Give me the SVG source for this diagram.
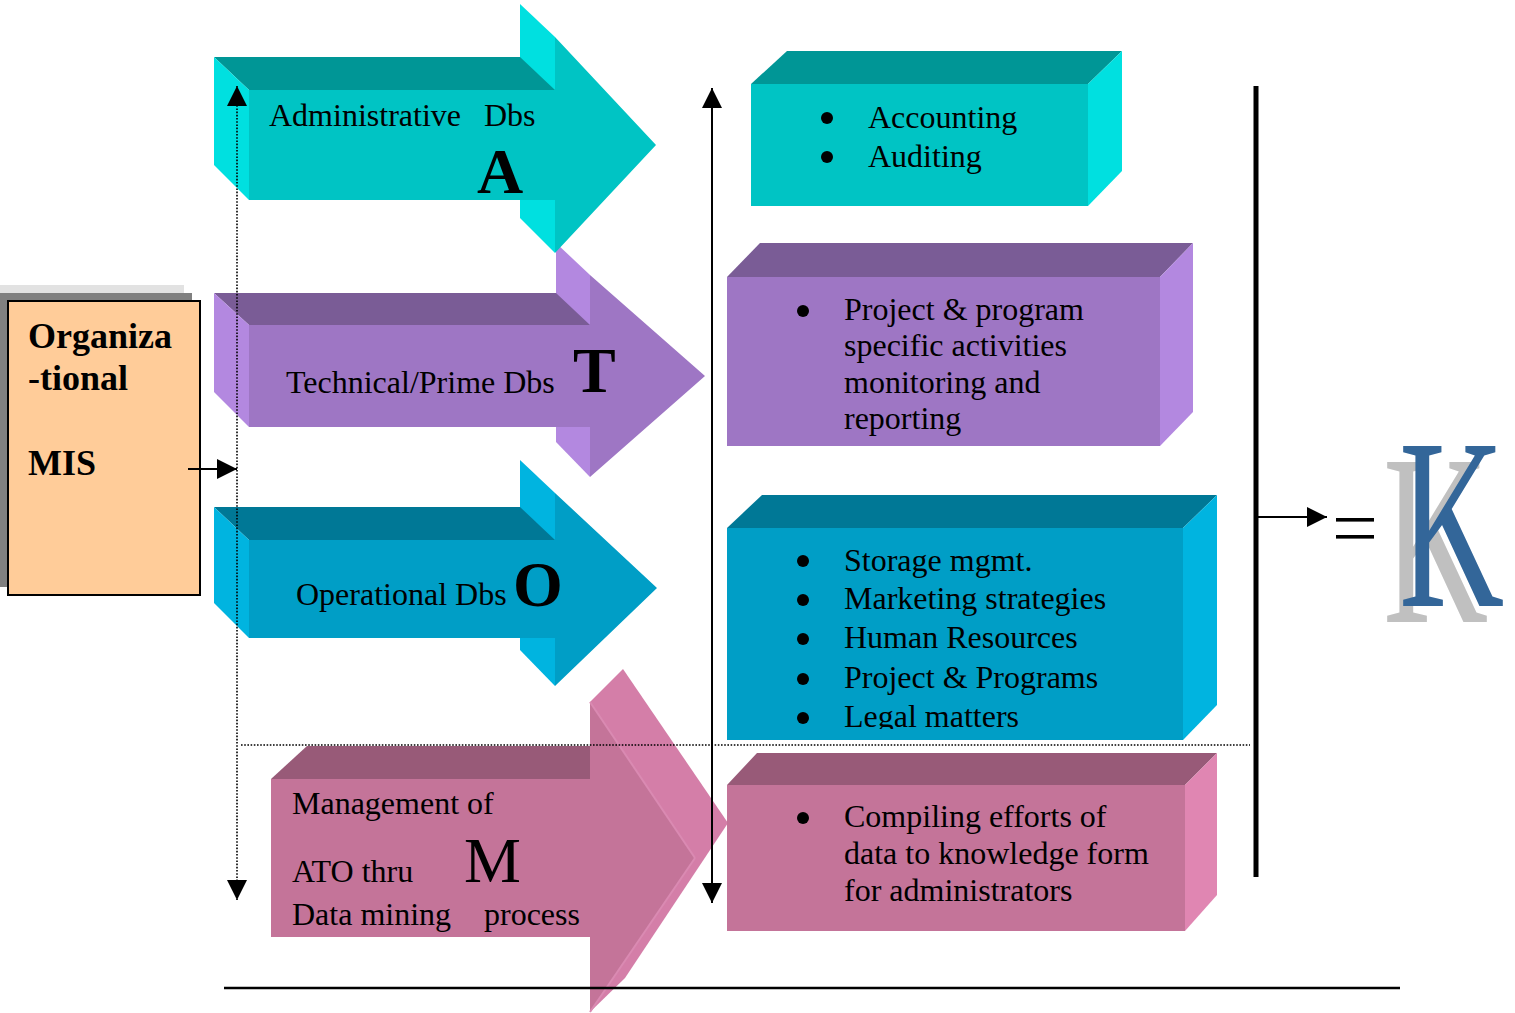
<svg xmlns="http://www.w3.org/2000/svg" width="1515" height="1013" viewBox="0 0 1515 1013">
<defs>
<style>
text{font-family:"Liberation Serif","Times New Roman",serif;fill:#000}
.t32{font-size:32px}
.big{font-size:64px;font-weight:bold}
.bigr{font-size:64px}
.mis{font-size:36px;font-weight:bold}
.bul{fill:#000}
.dot{stroke:#000;stroke-width:1.6;stroke-dasharray:1.6 1.6;fill:none}
.ln{stroke:#000;stroke-width:2;fill:none}
.tealF{fill:#00C4C4}.tealT{fill:#009696}.tealS{fill:#00E0E0}
.purF{fill:#9E76C4}.purT{fill:#7A5C96}.purS{fill:#B388E0}
.bluF{fill:#009EC6}.bluT{fill:#007896}.bluS{fill:#00B4E0}
.pinF{fill:#C47499}.pinT{fill:#985A78}.pinS{fill:#D47EA8}.pinS2{fill:#E086B2}
</style>
<marker id="ah" viewBox="0 0 20 20" refX="20" refY="10" markerWidth="20" markerHeight="20" markerUnits="userSpaceOnUse" orient="auto-start-reverse">
<path d="M0,0 L20,10 L0,20 Z" fill="#000"/>
</marker>
<clipPath id="clipO"><rect x="727" y="528" width="456" height="201"/></clipPath>
</defs>

<!-- Left box: Organizational MIS -->
<g id="node-mis">
<rect x="0" y="285" width="184" height="10" fill="#E2E2E2"/>
<rect x="0" y="293" width="192" height="294" fill="#808080"/>
<rect x="8" y="301" width="192" height="294" fill="#FFCC99" stroke="#000" stroke-width="2"/>
<text class="mis" x="28" y="348">Organiza</text>
<text class="mis" x="28" y="390">-tional</text>
<text class="mis" x="28" y="475">MIS</text>
</g>

<!-- Arrow M -->
<g id="node-arrow-m">
<polygon class="pinT" points="307,746 590,746 590,779 271,779"/>
<polygon class="pinS" points="590,702 623,669 728,823 625,978 590,1012"/>
<polygon class="pinF" points="271,779 590,779 590,702 695,858 590,1012 590,937 271,937"/>
<line x1="590" y1="702" x2="695" y2="858" stroke="#DA8AB2" stroke-width="2"/>
<line x1="695" y1="858" x2="590" y2="1012" stroke="#DA8AB2" stroke-width="2"/>
<text class="t32" x="292" y="814">Management of</text>
<text class="t32" x="292" y="882">ATO thru</text>
<text class="bigr" x="464" y="882">M</text>
<text class="t32" x="292" y="925">Data mining</text>
<text class="t32" x="484" y="925">process</text>
</g>

<!-- Arrow O -->
<g id="node-arrow-o">
<polygon class="bluS" points="520,460 555,493 555,686 520,650"/>
<polygon class="bluT" points="214,507 520,507 555,540 249,540"/>
<polygon class="bluS" points="214,507 249,540 249,638 214,603"/>
<polygon class="bluF" points="249,540 555,540 555,493 657,588 555,686 555,638 249,638"/>
<text class="t32" x="296" y="605">Operational Dbs</text>
<text class="big" x="513" y="606">O</text>
</g>

<!-- Arrow T -->
<g id="node-arrow-t">
<polygon class="purS" points="556,243 590,275 590,477 556,442"/>
<polygon class="purT" points="214,293 556,293 590,325 249,325"/>
<polygon class="purS" points="214,293 249,325 249,427 214,392"/>
<polygon class="purF" points="249,325 590,325 590,275 705,376 590,477 590,427 249,427"/>
<text class="t32" x="286" y="393">Technical/Prime Dbs</text>
<text class="big" x="573" y="392">T</text>
</g>

<!-- Arrow A -->
<g id="node-arrow-a">
<polygon class="tealS" points="520,4 555,37 555,253 520,218"/>
<polygon class="tealT" points="214,57 520,57 555,90 249,90"/>
<polygon class="tealS" points="214,57 249,90 249,200 214,165"/>
<polygon class="tealF" points="249,90 555,90 555,37 656,145 555,253 555,200 249,200"/>
<text class="t32" x="269" y="126">Administrative</text>
<text class="t32" x="484" y="126">Dbs</text>
<text class="big" x="477" y="193">A</text>
</g>

<!-- Box 1 teal -->
<g id="node-box-admin">
<polygon class="tealT" points="751,84 787,51 1122,51 1088,84"/>
<polygon class="tealS" points="1088,84 1122,51 1122,171 1088,206"/>
<rect class="tealF" x="751" y="84" width="337" height="122"/>
<circle class="bul" cx="827" cy="118" r="6"/>
<text class="t32" x="868" y="128">Accounting</text>
<circle class="bul" cx="827" cy="157" r="6"/>
<text class="t32" x="868" y="167">Auditing</text>
</g>

<!-- Box 2 purple -->
<g id="node-box-tech">
<polygon class="purT" points="727,277 760,243 1193,243 1160,277"/>
<polygon class="purS" points="1160,277 1193,243 1193,412 1160,446"/>
<rect class="purF" x="727" y="277" width="433" height="169"/>
<circle class="bul" cx="803" cy="311" r="6"/>
<text class="t32" x="844" y="320">Project &amp; program</text>
<text class="t32" x="844" y="356">specific activities</text>
<text class="t32" x="844" y="393">monitoring and</text>
<text class="t32" x="844" y="429">reporting</text>
</g>

<!-- Box 3 blue -->
<g id="node-box-oper">
<polygon class="bluT" points="727,528 762,495 1217,495 1183,528"/>
<polygon class="bluS" points="1183,528 1217,495 1217,705 1183,740"/>
<rect class="bluF" x="727" y="528" width="456" height="212"/>
<circle class="bul" cx="803" cy="561" r="6"/>
<circle class="bul" cx="803" cy="600" r="6"/>
<circle class="bul" cx="803" cy="639" r="6"/>
<circle class="bul" cx="803" cy="679" r="6"/>
<circle class="bul" cx="803" cy="718" r="6"/>
<g clip-path="url(#clipO)">
<text class="t32" x="844" y="571">Storage mgmt.</text>
<text class="t32" x="844" y="609">Marketing strategies</text>
<text class="t32" x="844" y="648">Human Resources</text>
<text class="t32" x="844" y="688">Project &amp; Programs</text>
<text class="t32" x="844" y="727">Legal matters</text>
</g>
</g>

<!-- Box 4 pink -->
<g id="node-box-mgmt">
<polygon class="pinT" points="727,785 757,753 1217,753 1185,785"/>
<polygon class="pinS2" points="1185,785 1217,753 1217,895 1185,931"/>
<rect class="pinF" x="727" y="785" width="458" height="146"/>
<circle class="bul" cx="803" cy="818" r="6"/>
<text class="t32" x="844" y="827">Compiling efforts of</text>
<text class="t32" x="844" y="864">data to knowledge form</text>
<text class="t32" x="844" y="901">for administrators</text>
</g>

<!-- K result -->
<g id="node-k">
<rect x="1336" y="518" width="38" height="3.6" fill="#000"/>
<rect x="1336" y="535" width="38" height="3.6" fill="#000"/>
<text transform="translate(1383,622) scale(0.6,1)" x="0" y="0" style="font-size:243px;fill:#C0C0C0">K</text>
<text transform="translate(1399,606) scale(0.6,1)" x="0" y="0" style="font-size:243px;fill:#336699">K</text>
</g>

<!-- Connectors -->
<g id="connectors">
<line class="dot" x1="237" y1="86" x2="237" y2="900" marker-start="url(#ah)" marker-end="url(#ah)"/>
<line class="dot" x1="241" y1="745" x2="1250" y2="745"/>
<line class="ln" x1="712" y1="88" x2="712" y2="903" marker-start="url(#ah)" marker-end="url(#ah)"/>
<line class="ln" x1="188" y1="469" x2="237" y2="469" marker-end="url(#ah)"/>
<line x1="1256" y1="86" x2="1256" y2="877" stroke="#000" stroke-width="5"/>
<line class="ln" x1="1258" y1="517" x2="1327" y2="517" marker-end="url(#ah)"/>
<line x1="224" y1="988" x2="1400" y2="988" stroke="#000" stroke-width="2.6"/>
</g>
</svg>
